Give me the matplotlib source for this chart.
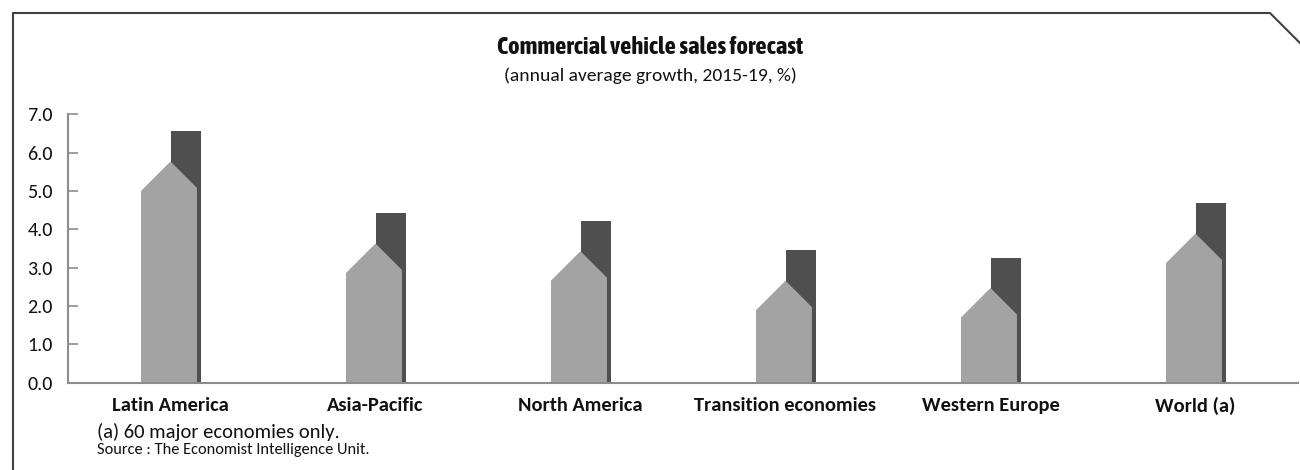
import matplotlib.pyplot as plt
import numpy as np
from matplotlib.lines import Line2D

# categories and values (% annual average growth)
regions = ['Latin America', 'Asia-Pacific', 'North America',
           'Transition economies', 'Western Europe', 'World (a)']
house_peak = [5.77, 3.63, 3.43, 2.66, 2.47, 3.89]   # light "house" shape, top of roof
chimney = [6.56, 4.43, 4.21, 3.45, 3.25, 4.69]      # dark bar behind it
yticks = [0.0, 1.0, 2.0, 3.0, 4.0, 5.0, 6.0, 7.0]

plt.rcParams['font.family'] = ['Carlito', 'Open Sans', 'DejaVu Sans']

W, H = 1300, 470
fig = plt.figure(figsize=(W / 100, H / 100), dpi=100)
ax = fig.add_axes([68 / W, 1 - 382.7 / H, 1230 / W, 268.4 / H])

x = np.arange(len(regions))
ax.set_xlim(-0.5, len(regions) - 0.5)
ax.set_ylim(0, 7)

light = '#a3a3a3'
dark = '#4f4f4f'

# dark bars (chimney), slightly right of centre
ax.bar(x + 0.002, chimney, width=0.147, align='edge', color=dark, zorder=2)

# roof drop: 45 degree slope in pixels
px_per_cat = 1230 / len(regions)
px_per_unit = 268.4 / 7
left_w, right_w = 0.144, 0.129
for xi, top in zip(x, house_peak):
    dl = left_w * px_per_cat / px_per_unit
    dr = right_w * px_per_cat / px_per_unit
    xs = [xi - left_w, xi - left_w, xi, xi + right_w, xi + right_w]
    ys = [0, top - dl, top, top - dr, 0]
    ax.fill(xs, ys, color=light, lw=0, zorder=3)

# axes styling
for s in ['top', 'right']:
    ax.spines[s].set_visible(False)
for s in ['left', 'bottom']:
    ax.spines[s].set_color('#8c8c8c')
    ax.spines[s].set_linewidth(1.5)
    ax.spines[s].set_zorder(4)

ax.set_yticks(yticks)
ax.set_yticklabels([f'{v:.1f}' for v in yticks])
ax.tick_params(axis='y', direction='in', length=7.2, width=1.2, color='#8c8c8c',
               labelsize=14.5, pad=11, labelcolor='#111111')
ax.set_xticks(x)
ax.set_xticklabels(regions, fontweight='bold', fontsize=14.8)
ax.tick_params(axis='x', length=0, pad=10, labelcolor='#111111')

# titles
fig.text(650 / W, 1 - 47 / H, 'Commercial vehicle sales forecast',
         ha='center', va='center', fontsize=17.7, fontweight='bold',
         family=['Asap Condensed', 'Archivo Narrow', 'DejaVu Sans'], color='#111111')
fig.text(650 / W, 1 - 76 / H, '(annual average growth, 2015-19, %)',
         ha='center', va='center', fontsize=14, color='#111111')

# footnotes
fig.text(97 / W, 1 - 432 / H, '(a) 60 major economies only.',
         ha='left', va='center', fontsize=14.8, color='#111111')
fig.text(97 / W, 1 - 450 / H, 'Source : The Economist Intelligence Unit.',
         ha='left', va='center', fontsize=11.8, color='#111111')

# frame with cut corner
fx = [13, 13, 1270, 1300]
fy = [470, 13, 13, 43]
fig.add_artist(Line2D([v / W for v in fx], [1 - v / H for v in fy],
                      transform=fig.transFigure, color='#404040', lw=1.5))

fig.savefig('out.png', dpi=100)
